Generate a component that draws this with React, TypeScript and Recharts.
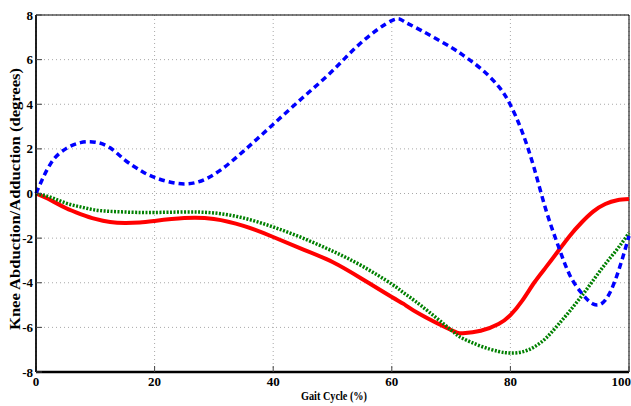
import React from 'react';
import {
  LineChart,
  Line,
  XAxis,
  YAxis,
  CartesianGrid,
  ReferenceArea,
} from 'recharts';

// gait cycle positions (%)
const gaitCycle = [
  0, 2.5, 5, 7.5, 10, 12.5, 15, 17.5, 20, 25, 30, 35, 40, 45, 50, 55, 60, 62,
  65, 70, 72, 75, 78, 80, 82, 84, 86, 88, 90, 92, 94, 96, 98, 100,
];

// knee angle series (degrees)
const blueDashed = [
  0, 1.35, 2.0, 2.28, 2.3, 2.05, 1.5, 1.05, 0.72, 0.43, 0.85, 1.9, 3.1, 4.3,
  5.5, 6.8, 7.75, 7.72, 7.3, 6.55, 6.2, 5.6, 4.8, 3.97, 2.75, 1.14, -0.74,
  -2.3, -3.65, -4.46, -4.96, -4.78, -3.65, -1.9,
];
const redSolid = [
  0, -0.3, -0.65, -0.92, -1.14, -1.28, -1.32, -1.3, -1.23, -1.1, -1.14, -1.45,
  -1.95, -2.5, -3.07, -3.83, -4.64, -4.95, -5.45, -6.12, -6.26, -6.15, -5.85,
  -5.45, -4.8, -4.0, -3.3, -2.6, -1.9, -1.3, -0.8, -0.47, -0.3, -0.25,
];
const greenDotted = [
  0, -0.17, -0.43, -0.6, -0.74, -0.8, -0.83, -0.85, -0.85, -0.83, -0.87, -1.1,
  -1.5, -2.0, -2.58, -3.25, -4.06, -4.45, -5.04, -6.12, -6.5, -6.84, -7.08,
  -7.15, -7.1, -6.88, -6.48, -5.9, -5.27, -4.6, -3.88, -3.16, -2.5, -1.77,
];

const xTicks = [0, 20, 40, 60, 80, 100];
const yTicks = [-8, -6, -4, -2, 0, 2, 4, 6, 8];

const data = gaitCycle.map((x, i) => ({
  x,
  blue: blueDashed[i],
  red: redSolid[i],
  green: greenDotted[i],
}));

const FONT = '"Liberation Serif", "DejaVu Serif", serif';
const tickStyle = { fontFamily: FONT, fontWeight: 700, fontSize: 13, fill: '#000' };

// axis titles are squeezed horizontally in the original figure
const XTitle = () => (
  <text
    x={334}
    y={400}
    textAnchor="middle"
    textLength={66}
    lengthAdjust="spacingAndGlyphs"
    style={{ fontFamily: FONT, fontWeight: 700, fontSize: 13, fill: '#000' }}
  >
    Gait Cycle (%)
  </text>
);

const YTitle = () => (
  <text
    x={0}
    y={0}
    transform="translate(20 199) rotate(-90)"
    textAnchor="middle"
    textLength={262}
    lengthAdjust="spacingAndGlyphs"
    style={{ fontFamily: FONT, fontWeight: 700, fontSize: 15, fill: '#000' }}
  >
    Knee Abduction/Adduction (degrees)
  </text>
);

const App = () => {
  return (
    <div style={{ position: 'absolute', left: 0, top: 0, width: 631, height: 406, background: '#fff' }}>
      <LineChart
        width={631}
        height={406}
        data={data}
        margin={{ top: 15, right: 2, bottom: 0, left: 0 }}
      >
        <CartesianGrid stroke="#a8a8a8" strokeDasharray="1 3" />
        <XAxis
          dataKey="x"
          type="number"
          domain={[0, 100]}
          ticks={xTicks}
          height={34}
          tickSize={-6}
          tickMargin={11}
          tick={tickStyle}
          axisLine={{ stroke: '#000', strokeWidth: 2.5 }}
          tickLine={{ stroke: '#444' }}
          label={<XTitle />}
        />
        <XAxis
          xAxisId="top"
          orientation="top"
          type="number"
          domain={[0, 100]}
          ticks={xTicks}
          height={0}
          tick={false}
          tickSize={-6}
          axisLine={{ stroke: '#000', strokeWidth: 1.5 }}
          tickLine={{ stroke: '#444' }}
        />
        <YAxis
          type="number"
          domain={[-8, 8]}
          ticks={yTicks}
          width={36}
          tickSize={-6}
          tickMargin={9}
          tick={tickStyle}
          axisLine={{ stroke: '#000', strokeWidth: 1.5 }}
          tickLine={{ stroke: '#444' }}
          label={<YTitle />}
        />
        <YAxis
          yAxisId="right"
          orientation="right"
          type="number"
          domain={[-8, 8]}
          ticks={yTicks}
          width={0}
          tick={false}
          tickSize={-6}
          axisLine={{ stroke: '#000', strokeWidth: 1.5 }}
          tickLine={{ stroke: '#444' }}
        />
        <ReferenceArea x1={0} x2={100} y1={-8} y2={8} fill="none" stroke="#000" strokeWidth={1} />
        <Line
          type="natural"
          dataKey="red"
          stroke="#ff0000"
          strokeWidth={4}
          dot={false}
          isAnimationActive={false}
        />
        <Line
          type="natural"
          dataKey="green"
          stroke="#008000"
          strokeWidth={3.5}
          strokeDasharray="2 1.5"
          dot={false}
          isAnimationActive={false}
        />
        <Line
          type="natural"
          dataKey="blue"
          stroke="#0000ff"
          strokeWidth={3.5}
          strokeDasharray="6 4"
          dot={false}
          isAnimationActive={false}
        />
      </LineChart>
    </div>
  );
};

export default App;
